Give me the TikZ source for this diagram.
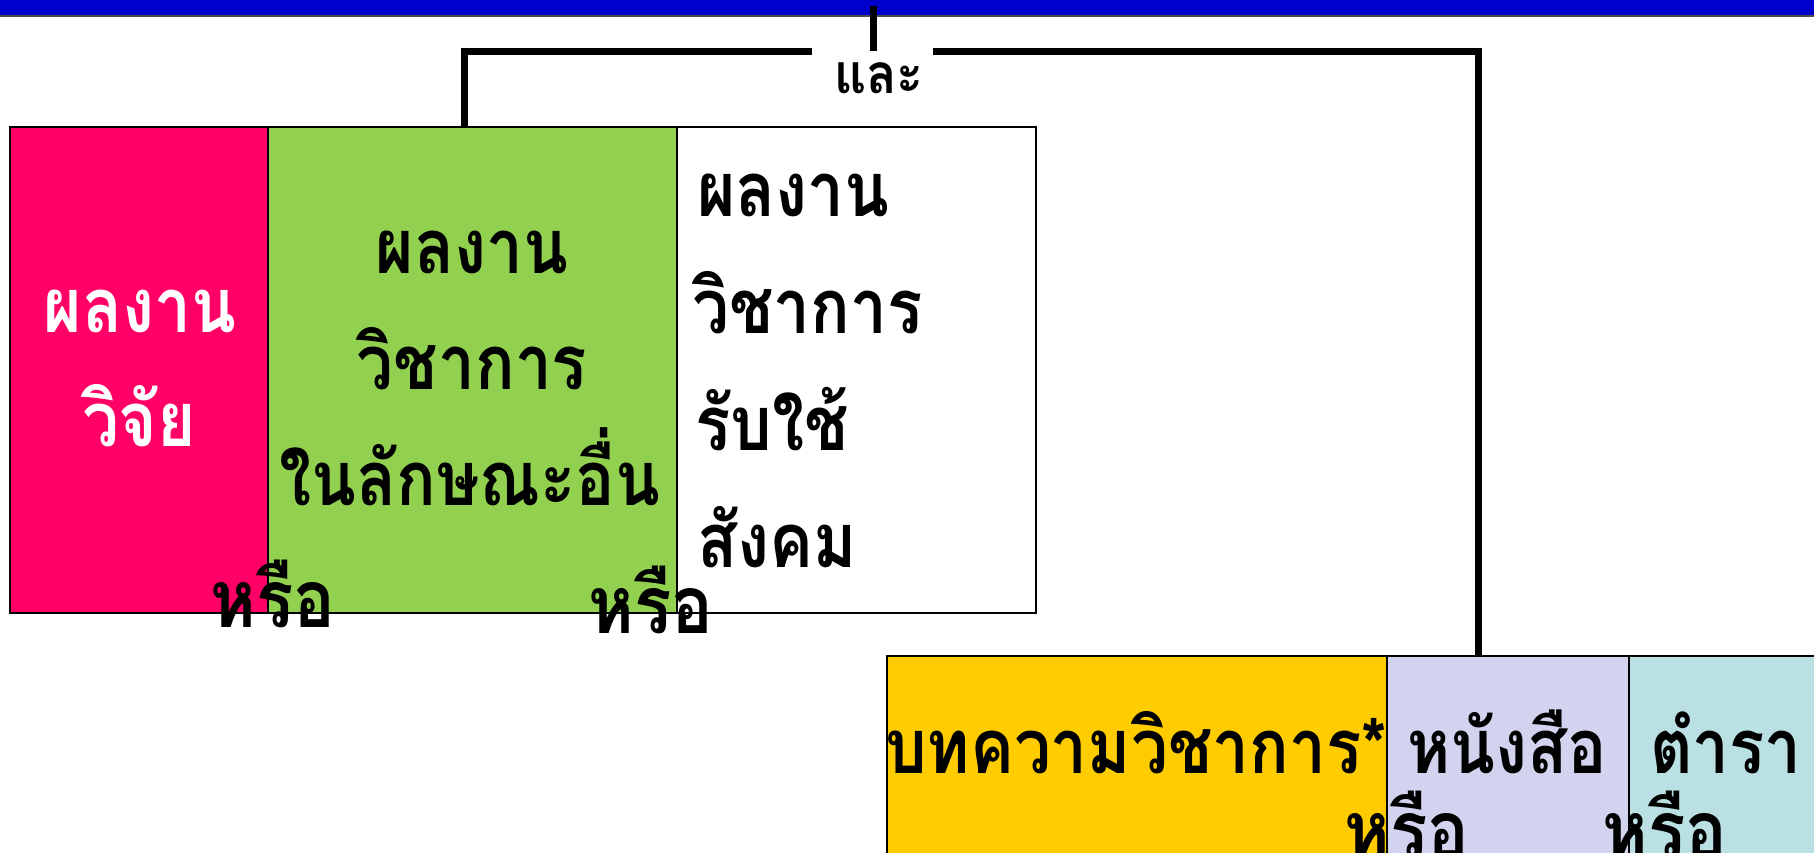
\documentclass[tikz,border=0pt]{standalone}
\usepackage{graphicx}
\usepackage{fontspec}
\newfontfamily\thai[Script=Thai]{Loma}
\newcommand\talltxt[1]{\scalebox{0.98}[1.13]{#1}}
\definecolor{bandblue}{HTML}{0000CC}
\definecolor{pinkbox}{HTML}{FF0066}
\definecolor{greenbox}{HTML}{92D050}
\definecolor{yellowbox}{HTML}{FFCC00}
\definecolor{lavbox}{HTML}{D1D3EF}
\definecolor{cyanbox}{HTML}{BAE0E3}
\begin{document}
\begin{tikzpicture}[x=1pt,y=-1pt,
  box/.style={draw=black,line width=1.5pt,inner sep=0pt,outer sep=0pt},
  conn/.style={line width=7pt,line cap=butt},
  maintxt/.style={font=\thai\bfseries\fontsize{67}{67}\selectfont,inner sep=0pt},
  ortxt/.style={font=\thai\bfseries\fontsize{71}{71}\selectfont,inner sep=0pt,text=black},
  andtxt/.style={font=\thai\bfseries\fontsize{50}{50}\selectfont,inner sep=0pt}]
\useasboundingbox (0,0) rectangle (1814,852);
\fill[white] (0,0) rectangle (1814,852);
% top band
\fill[bandblue] (0,0) rectangle (1814,16);
\draw[line width=1.2pt,black!70] (0,16) -- (1814,16);
% boxes
\path[box,fill=pinkbox] (10,127) rectangle (268,613);
\path[box,fill=greenbox] (268,127) rectangle (677,613);
\path[box,fill=white] (677,127) rectangle (1036,613);
\path[box,fill=yellowbox] (887,656) rectangle (1387,870);
\path[box,fill=lavbox] (1387,656) rectangle (1629,870);
\path[box,fill=cyanbox] (1629,656) rectangle (1830,870);
% connector end points
\coordinate (greentop) at (464,127);
\coordinate (lavtop) at (1478,656);
\coordinate (ticktop) at (873,6);
\coordinate (tickbot) at (873,51);
\coordinate (gapL) at (812,51);
\coordinate (gapR) at (933,51);
\coordinate (cornerL) at (464,51);
\coordinate (cornerR) at (1478,51);
\draw[conn] (ticktop) -- (tickbot);
\draw[conn] (gapL) -- (cornerL) -- (greentop);
\draw[conn] (gapR) -- (cornerR) -- (lavtop);
\node[andtxt,anchor=base] (and) at (879,93) {\scalebox{1}[1.1]{และ}};
% pink text
\node[maintxt,text=white,anchor=base] (p1) at (140,332) {\talltxt{ผลงาน}};
\node[maintxt,text=white,anchor=base] (p2) at (139,446) {\talltxt{วิจัย}};
% green text
\node[maintxt,anchor=base] (g1) at (472,273) {\talltxt{ผลงาน}};
\node[maintxt,anchor=base] (g2) at (472,389) {\talltxt{วิชาการ}};
\node[maintxt,anchor=base] (g3) at (470,505) {\talltxt{ในลักษณะอื่น}};
% white text
\node[maintxt,anchor=base west] (w1) at (697,216) {\talltxt{ผลงาน}};
\node[maintxt,anchor=base west] (w2) at (692,333) {\talltxt{วิชาการ}};
\node[maintxt,anchor=base west] (w3) at (695,450) {\talltxt{รับใช้}};
\node[maintxt,anchor=base west] (w4) at (697,567) {\talltxt{สังคม}};
% bottom texts
\node[maintxt,anchor=base] (b1) at (1136,773) {\talltxt{บทความวิชาการ*}};
\node[maintxt,anchor=base] (b2) at (1507,773) {\talltxt{หนังสือ}};
\node[maintxt,anchor=base] (b3) at (1726,773) {\talltxt{ตำรา}};
% or labels
\node[ortxt,anchor=base] (or1) at (273,627) {\talltxt{หรือ}};
\node[ortxt,anchor=base] (or2) at (651,633) {\talltxt{หรือ}};
\node[ortxt,anchor=base] (or3) at (1407,858) {\talltxt{หรือ}};
\node[ortxt,anchor=base] (or4) at (1665,858) {\talltxt{หรือ}};
\end{tikzpicture}
\end{document}
